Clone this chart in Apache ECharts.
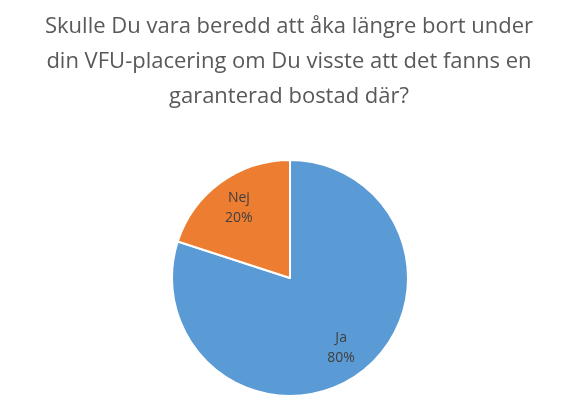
<!DOCTYPE html>
<html>
<head>
<meta charset="utf-8">
<script src="https://cdn.jsdelivr.net/npm/echarts@6/dist/echarts.min.js"></script>
</head>
<body style="margin:0">
<div id="container" style="width:578px;height:413px"></div>
<script>
let categories = ['Ja', 'Nej'];
let values = [80, 20];
let colors = ['#5b9bd5', '#ed7d31'];
let titleText = 'Skulle Du vara beredd att åka längre bort under\ndin VFU-placering om Du visste att det fanns en\ngaranterad bostad där?';

let pieData = categories.map((c, i) => ({ name: c, value: values[i], itemStyle: { color: colors[i] } }));
let chart = echarts.init(document.getElementById('container'));
chart.setOption({
    animation: false,
    title: {
        text: titleText,
        left: 'center',
        top: 4,
        textStyle: { fontFamily: 'Open Sans', fontSize: 22, fontWeight: 'normal', color: '#595959', lineHeight: 35 }
    },
    series: [
        {
            type: 'pie',
            center: [290, 278],
            radius: [0, 118],
            startAngle: 90,
            clockwise: true,
            data: pieData,
            label: { show: false },
            labelLine: { show: false },
            itemStyle: { borderColor: '#fff', borderWidth: 2 }
        },
        {
            type: 'pie',
            silent: true,
            center: [290, 278],
            radius: [50, 118],
            startAngle: 90,
            data: categories.map((c, i) => ({ name: c, value: values[i] })),
            itemStyle: { color: 'transparent' },
            label: {
                show: true,
                position: 'inside',
                formatter: p => p.name + '\n' + p.percent.toFixed(0) + '%',
                fontFamily: 'Open Sans',
                fontSize: 14,
                lineHeight: 20,
                color: '#404040'
            },
            labelLine: { show: false }
        }
    ]
});
</script>
</body>
</html>
